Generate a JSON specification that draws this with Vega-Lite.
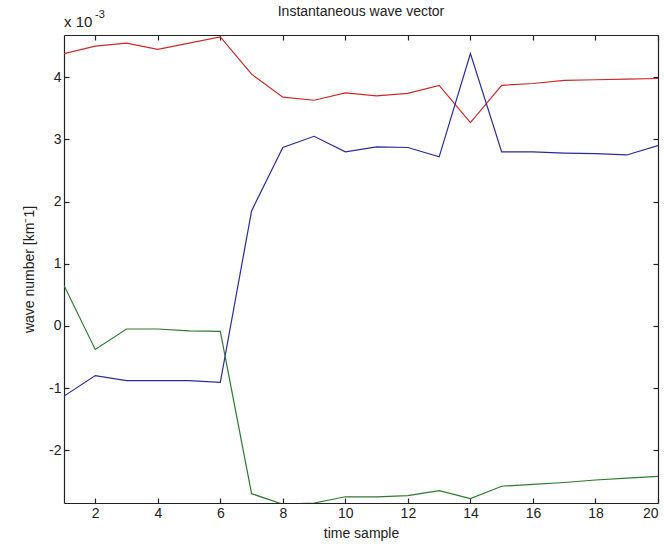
{
  "$schema": "https://vega.github.io/schema/vega-lite/v6.json",
  "width": 594,
  "height": 468,
  "autosize": {"type": "none"},
  "padding": {"left": 64, "top": 35, "right": 6, "bottom": 52},
  "background": "white",
  "title": {"text": "Instantaneous wave vector", "font": "Liberation Sans", "fontSize": 14, "fontWeight": "normal", "color": "#222", "offset": -10},
  "config": {
    "view": {"stroke": null},
    "axis": {"grid": false, "domainColor": "#222", "tickColor": "#222", "labelColor": "#222", "titleColor": "#222", "labelFont": "Liberation Sans", "titleFont": "Liberation Sans", "labelFontSize": 14, "titleFontSize": 14, "titleFontWeight": "normal", "tickSize": -5, "domainWidth": 1.2, "tickWidth": 1.2}
  },
  "data": {"values": [
    {"t":1,"s":"r","k":0.00438},{"t":2,"s":"r","k":0.00450},{"t":3,"s":"r","k":0.00455},{"t":4,"s":"r","k":0.00445},{"t":5,"s":"r","k":0.00455},{"t":6,"s":"r","k":0.00465},{"t":7,"s":"r","k":0.00405},{"t":8,"s":"r","k":0.00368},{"t":9,"s":"r","k":0.00363},{"t":10,"s":"r","k":0.00375},{"t":11,"s":"r","k":0.00370},{"t":12,"s":"r","k":0.00374},{"t":13,"s":"r","k":0.00387},{"t":14,"s":"r","k":0.00327},{"t":15,"s":"r","k":0.00387},{"t":16,"s":"r","k":0.00390},{"t":17,"s":"r","k":0.00395},{"t":18,"s":"r","k":0.00396},{"t":19,"s":"r","k":0.00397},{"t":20,"s":"r","k":0.00398},
    {"t":1,"s":"b","k":-0.00113},{"t":2,"s":"b","k":-0.00080},{"t":3,"s":"b","k":-0.00088},{"t":4,"s":"b","k":-0.00088},{"t":5,"s":"b","k":-0.00088},{"t":6,"s":"b","k":-0.00091},{"t":7,"s":"b","k":0.00185},{"t":8,"s":"b","k":0.00287},{"t":9,"s":"b","k":0.00305},{"t":10,"s":"b","k":0.00280},{"t":11,"s":"b","k":0.00288},{"t":12,"s":"b","k":0.00287},{"t":13,"s":"b","k":0.00272},{"t":14,"s":"b","k":0.00438},{"t":15,"s":"b","k":0.00280},{"t":16,"s":"b","k":0.00280},{"t":17,"s":"b","k":0.00278},{"t":18,"s":"b","k":0.00277},{"t":19,"s":"b","k":0.00275},{"t":20,"s":"b","k":0.00290},
    {"t":1,"s":"g","k":0.00065},{"t":2,"s":"g","k":-0.00038},{"t":3,"s":"g","k":-0.00005},{"t":4,"s":"g","k":-0.00005},{"t":5,"s":"g","k":-0.00008},{"t":6,"s":"g","k":-0.00009},{"t":7,"s":"g","k":-0.00270},{"t":8,"s":"g","k":-0.00287},{"t":9,"s":"g","k":-0.00285},{"t":10,"s":"g","k":-0.00275},{"t":11,"s":"g","k":-0.00275},{"t":12,"s":"g","k":-0.00273},{"t":13,"s":"g","k":-0.00265},{"t":14,"s":"g","k":-0.00278},{"t":15,"s":"g","k":-0.00258},{"t":16,"s":"g","k":-0.00255},{"t":17,"s":"g","k":-0.00252},{"t":18,"s":"g","k":-0.00248},{"t":19,"s":"g","k":-0.00245},{"t":20,"s":"g","k":-0.00242}
  ]},
  "resolve": {"axis": {"x": "independent", "y": "independent"}},
  "layer": [
    {
      "mark": {"type": "line", "strokeWidth": 1.2, "clip": true},
      "encoding": {
        "x": {"field": "t", "type": "quantitative", "scale": {"domain": [1, 20], "nice": false, "zero": false},
              "axis": {"values": [2,4,6,8,10,12,14,16,18,20], "title": "time sample", "labelPadding": 8, "titlePadding": 6}},
        "y": {"field": "k", "type": "quantitative", "scale": {"domain": [-0.00285, 0.00468], "nice": false, "zero": false},
              "axis": {"values": [-0.002,-0.001,0,0.001,0.002,0.003,0.004], "labelExpr": "'' + round(datum.value*1000)", "title": "wave number [km⁻1]", "labelPadding": 8, "titlePadding": 12}},
        "color": {"field": "s", "type": "nominal", "scale": {"domain": ["r","b","g"], "range": ["#cc2a2a","#2b2b9a","#2f7a2f"]}, "legend": null},
        "detail": {"field": "s"}
      }
    },
    {
      "mark": {"type": "point", "opacity": 0},
      "encoding": {
        "x": {"field": "t", "type": "quantitative", "axis": {"orient": "top", "values": [2,4,6,8,10,12,14,16,18,20], "labels": false, "title": null}},
        "y": {"field": "k", "type": "quantitative", "axis": {"orient": "right", "values": [-0.002,-0.001,0,0.001,0.002,0.003,0.004], "labels": false, "title": null}}
      }
    },
    {
      "data": {"values": [{"t": 1, "k": 0.00468, "txt": "x 10"}]},
      "mark": {"type": "text", "align": "left", "baseline": "bottom", "dy": -5, "dx": 0, "font": "Liberation Sans", "fontSize": 15, "color": "#222"},
      "encoding": {"x": {"field": "t", "type": "quantitative", "axis": null}, "y": {"field": "k", "type": "quantitative", "axis": null}, "text": {"field": "txt"}}
    },
    {
      "data": {"values": [{"t": 1, "k": 0.00468, "txt": "-3"}]},
      "mark": {"type": "text", "align": "left", "baseline": "bottom", "dy": -15, "dx": 31, "font": "Liberation Sans", "fontSize": 11, "color": "#222"},
      "encoding": {"x": {"field": "t", "type": "quantitative", "axis": null}, "y": {"field": "k", "type": "quantitative", "axis": null}, "text": {"field": "txt"}}
    }
  ]
}
